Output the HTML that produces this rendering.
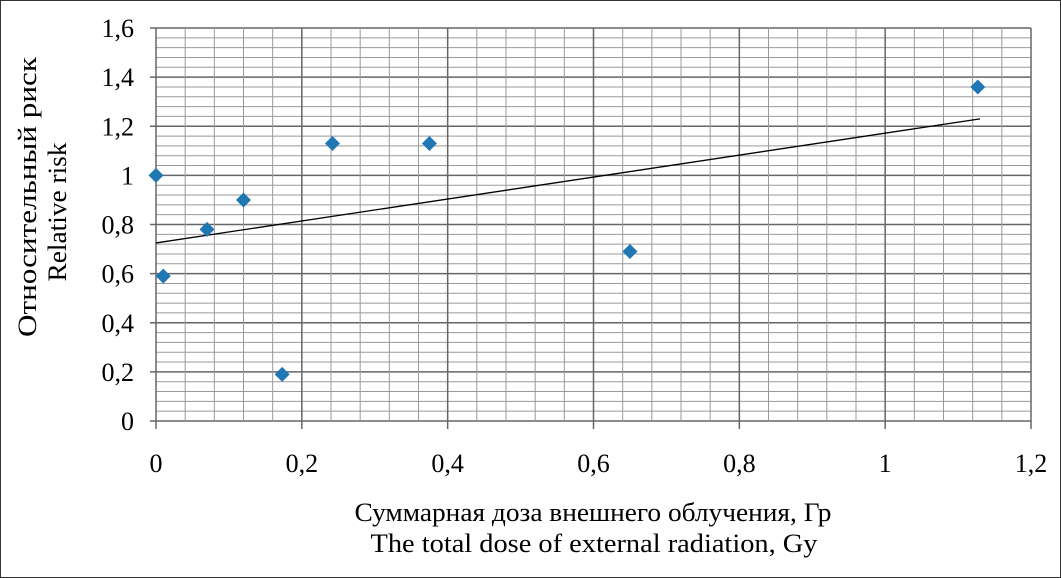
<!DOCTYPE html>
<html><head><meta charset="utf-8"><style>
body{margin:0;background:#fff}
svg{display:block;font-family:"Liberation Serif",serif}
</style></head><body>
<svg id="c" width="1061" height="578">
<rect x="0.5" y="0.5" width="1060" height="577" fill="none" stroke="#333"/>
<g id="grid"></g><g id="marks"></g>
<text x="36" y="197" font-size="26" text-anchor="middle" textLength="280" lengthAdjust="spacingAndGlyphs" transform="rotate(-90 36 197)">Относительный риск</text>
<text x="66" y="212" font-size="26" text-anchor="middle" textLength="139" lengthAdjust="spacingAndGlyphs" transform="rotate(-90 66 212)">Relative risk</text>
<text x="593" y="521" font-size="26" text-anchor="middle" textLength="477" lengthAdjust="spacingAndGlyphs">Суммарная доза внешнего облучения, Гр</text>
<text x="594" y="552" font-size="26" text-anchor="middle" textLength="447" lengthAdjust="spacingAndGlyphs">The total dose of external radiation, Gy</text>
</svg>
<script>
const xs=[0,0.01,0.07,0.12,0.173,0.242,0.375,0.65,1.127];
const ys=[1.0,0.59,0.78,0.9,0.19,1.13,1.13,0.69,1.36];
const xTicks=["0","0,2","0,4","0,6","0,8","1","1,2"];
const yTicks=["0","0,2","0,4","0,6","0,8","1","1,2","1,4","1,6"];
const trend=[[0,0.725],[1.13,1.23]];
const X0=156,X1=1031,Y0=421,Y1=28;
const sx=v=>X0+v/1.2*(X1-X0), sy=v=>Y0-v/1.6*(Y0-Y1);
const NS="http://www.w3.org/2000/svg";
const g=document.getElementById('grid'),m=document.getElementById('marks');
function el(p,t,a){const e=document.createElementNS(NS,t);for(const k in a)e.setAttribute(k,a[k]);p.appendChild(e);return e;}
for(let i=0;i<=40;i++){const v=i*0.04,y=sy(v),maj=i%5==0;
 const l=el(g,'line',{x1:maj?X0-6:X0,x2:X1,y1:y,y2:y,stroke:maj?'#666':'#999','stroke-width':maj?1.5:1});
 }
for(let i=0;i<=30;i++){const v=i*0.04,x=sx(v),maj=i%5==0;
 const l=el(g,'line',{x1:x,x2:x,y1:Y1,y2:maj?Y0+8:Y0,stroke:maj?'#666':'#999','stroke-width':maj?1.5:1});
 }
yTicks.forEach((t,i)=>{const e=el(g,'text',{x:134,y:sy(i*0.2)+9,'font-size':26,'text-anchor':'end'});e.textContent=t;
 });
xTicks.forEach((t,i)=>{const e=el(g,'text',{x:sx(i*0.2),y:472,'font-size':26,'text-anchor':'middle'});e.textContent=t;
 });
const tl=el(m,'line',{x1:sx(trend[0][0]),y1:sy(trend[0][1]),x2:sx(trend[1][0]),y2:sy(trend[1][1]),stroke:'#000','stroke-width':1.3});

xs.forEach((v,i)=>{const x=sx(v),y=sy(ys[i]),r=7.5;
 const p=el(m,'polygon',{points:`${x},${y-r} ${x+r},${y} ${x},${y+r} ${x-r},${y}`,fill:'#1f77b4'});
 });
</script>
</body></html>
